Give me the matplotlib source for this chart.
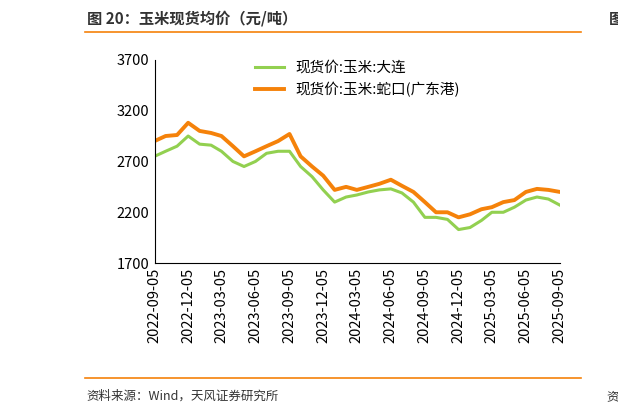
import matplotlib.pyplot as plt
import matplotlib.dates as mdates
import pandas as pd

plt.rcParams['font.family'] = 'Noto Sans CJK SC'

dates = pd.date_range('2022-09-01', '2025-09-01', freq='MS') + pd.Timedelta(days=4)
dalian = [2750, 2800, 2850, 2950, 2870, 2860, 2800, 2700, 2650, 2700, 2780, 2800,
          2800, 2650, 2550, 2420, 2300, 2350, 2370, 2400, 2420, 2430, 2390, 2300,
          2150, 2150, 2130, 2030, 2050, 2120, 2200, 2200, 2250, 2320, 2350, 2330, 2270]
shekou = [2900, 2950, 2960, 3080, 3000, 2980, 2950, 2850, 2750, 2800, 2850, 2900,
          2970, 2750, 2650, 2560, 2420, 2450, 2420, 2450, 2480, 2520, 2460, 2400,
          2300, 2200, 2200, 2150, 2180, 2230, 2250, 2300, 2320, 2400, 2430, 2420, 2400]
xticks = pd.date_range('2022-09-01', '2025-09-01', freq='3MS') + pd.Timedelta(days=4)

fig = plt.figure(figsize=(6.18, 4.15), dpi=100)
ax = fig.add_axes([0.25, 0.366, 0.656, 0.49])
ax.plot(dates, dalian, color='#92d050', lw=2.2, label='现货价:玉米:大连')
ax.plot(dates, shekou, color='#f5820a', lw=2.8, label='现货价:玉米:蛇口(广东港)')
ax.set_ylim(1700, 3700)
ax.set_yticks([1700, 2200, 2700, 3200, 3700])
ax.set_xlim(xticks[0], xticks[-1])
ax.set_xticks(xticks)
ax.xaxis.set_major_formatter(mdates.DateFormatter('%Y-%m-%d'))
ax.tick_params(axis='x', rotation=90, labelsize=10.5, length=0)
ax.tick_params(axis='y', labelsize=10.5, length=0)
for s in ['top', 'right']:
    ax.spines[s].set_visible(False)
ax.legend(loc='upper center', frameon=False, fontsize=10.5, bbox_to_anchor=(0.5, 1.06))

fig.text(0.14, 0.955, '图 20：玉米现货均价（元/吨）', fontsize=11, fontweight='bold', color='#333333', va='center')
fig.text(0.985, 0.955, '图', fontsize=11, fontweight='bold', color='#333333', va='center')
fig.add_artist(plt.Line2D([0.138, 0.94], [0.922, 0.922], color='#f5820a', lw=1.2))
fig.add_artist(plt.Line2D([0.138, 0.94], [0.088, 0.088], color='#f5820a', lw=1.2))
fig.text(0.14, 0.045, '资料来源：Wind，天风证券研究所', fontsize=9, color='#333333', va='center')
fig.text(0.982, 0.045, '资', fontsize=9, color='#333333', va='center')
fig.savefig('out.png')
